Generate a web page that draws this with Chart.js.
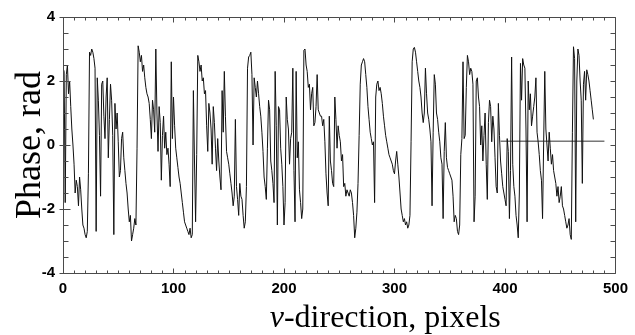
<!DOCTYPE html>
<html>
<head>
<meta charset="utf-8">
<script src="https://cdn.jsdelivr.net/npm/chart.js@4/dist/chart.umd.min.js"></script>
<style>
  html, body { margin: 0; padding: 0; background: #fff; }
  #chartContainer { width: 635px; height: 335px; }
</style>
</head>
<body>
<div id="chartContainer"><canvas id="chart" width="635" height="335"></canvas></div>
<script>
// one phase sample per pixel along v
const xStep = 1
const phase = [
   2.4,  2.3, -1.8,  2.2,  2.5,  1.6,  2.0,  1.2,  0.5,  0.0,
  -0.6, -1.5, -1.1, -1.3, -1.9, -1.0, -1.4, -2.0, -2.5, -2.6,
  -2.8, -2.9, -2.7, -0.9,  2.9,  2.8,  3.0,  2.9,  2.7,  2.4,
  -2.7,  2.1,  1.4,  0.3, -1.6,  1.9,  2.0,  0.9,  0.2,  1.5,
   2.1, -0.4,  0.8,  1.9,  1.4,  0.3, -2.8,  1.3,  0.5,  1.0,
   0.1, -1.0, -0.8,  0.2,  0.4, -0.4, -0.8, -1.2, -1.5, -2.0,
  -2.4, -2.2, -3.0, -2.8, -2.6, -2.3, -2.5, -0.1,  3.1,  2.9,
   2.6,  2.8,  2.3,  2.5,  2.1,  1.8,  1.6,  1.5,  1.3,  0.8,
   0.2,  1.4,  1.1,  0.4,  3.0,  1.0, -0.2,  1.2,  0.7, -1.1,
   0.3,  0.9, -0.1,  0.4, -0.3, -0.1, -0.6, -1.3,  2.6,  0.2,
   1.5,  0.6, -0.1, -0.4, -0.7, -1.0, -1.2, -1.5, -1.8, -2.1,
  -2.4, -2.5, -2.6, -2.7, -2.8, -2.6, -2.9, -2.8,  1.7, -0.5,
  -2.4, -0.3,  2.8,  2.6,  2.3,  2.5,  2.0,  2.1,  1.6,  1.7,
   0.6, -0.2,  1.3,  1.0,  0.5, -0.6,  1.2,  0.7, -0.1, -0.8,
   0.2, -0.5, -1.0, -1.4,  1.7,  0.4,  2.3,  0.9, -0.2, -0.4,
  -0.6, -0.9, -1.2, -1.5, -1.9, -1.6,  0.8, -1.3, -1.7, -2.2,
  -1.2, -1.6, -1.7, -2.2, -2.6, -2.4, -1.3,  2.4, 2.75,  2.8,
   2.9,  2.2,  0.0,  2.1,  1.8,  1.5,  2.0,  1.6,  1.2,  0.9,
   0.4, -0.2, -1.0, -1.3, -1.7, -0.1,  1.4,  1.1, -0.5, -0.8,
  -1.2, -1.8,  2.3,  0.6, -2.5,  1.2,  1.1, -0.1, -0.6, -1.3,
  -2.5, -1.8,  1.5,  0.8,  0.5, -0.6,  0.2,  0.4,  2.4, -0.8,
  -2.4,  2.3, -0.4,  0.1, -1.4, -1.8, -2.3, -2.0, 2.96,  3.0,
   2.5,  2.3,  1.8,  1.9,  1.1,  1.6,  1.8,  0.6,  0.7,  1.2,
   2.2,  1.1,  1.0,  0.9,  0.9,  0.6,  0.8,  0.1, -0.9, -1.5,
  -1.9,  0.9, -0.5, -0.8, -1.2, -1.3,  1.5,  0.8, -0.1,  0.6,
   0.3,  0.1, -0.5, -0.3, -1.3, -1.2, -1.6, -1.4, -1.5, -1.6,
  -1.4, -1.5, -1.8, -2.2, -2.9, -2.6, -2.1, -1.2,  0.3,  1.9,
   2.5,  2.6,  2.7,  2.6,  2.2,  1.8,  1.2,  0.8,  0.4,  0.2,
   0.0,  0.1, -1.8,  1.5,  1.9,  2.0,  1.7,  1.8,  1.6,  1.3,
   0.9,  0.6,  0.3,  0.1, -0.1, -0.3, -0.4, -0.5, -0.6, -0.8,
  -0.9, -0.5, -0.2, -0.6, -1.0, -1.5, -2.0, -2.2, -2.4, -2.3,
  -2.5, -2.4, -2.6, -2.5, -2.2,  0.1,  2.6,  3.0, 3.05,  2.9,
   2.6,  2.3,  2.0,  1.8,  1.5,  1.0,  0.7,  1.0,  2.4,  1.6,
   1.0,  0.8,  0.5,  0.1, -1.9,  0.4,  2.2,  1.9,  1.0,  0.8,
   0.4,  0.1, -0.4, -0.6, -2.3, -0.2,  0.7, -0.4, -0.7, -0.8,
  -0.9, -1.0, -1.1, -1.6, -2.4, -2.2, -2.3, -2.7, -2.8, -2.5,
  -0.3,  0.2,  2.6,  0.2,  0.3,  1.8,  2.8,  2.6,  2.2,  2.4,
   2.3,  1.9, -2.4, -1.6,  2.0,  2.1,  1.5,  1.2,  0.0,  0.6,
  -0.5,  0.3,  1.0, -0.6, -1.7,  0.7,  1.4,  1.2,  0.1,  0.9,
   0.5, -0.4, -1.3, -1.5,  1.3,  0.3, -0.5, -0.9, -1.3, -1.5,
  -1.7, -1.9,  0.2, -0.2, -2.3, -0.8, 2.75, -0.6, -1.3, -1.6,
  -2.2, -2.5, -2.9, -1.5, 2.55,  1.4,  2.7,  2.5,  2.4,  0.5,
  -2.4,  2.0,  1.1,  1.6,  0.6,  0.9,  1.2,  1.5,  2.1,  0.4,
   0.1, -0.3, -0.8, -1.1, -2.3,  0.1,  2.3,  0.5,  0.0, -0.5,
   0.4, -0.1, -0.6, -0.3, -0.8, -1.0, -1.2, -1.6, -1.3, -1.8,
  -1.6, -1.3, -1.9, -2.0, -2.2, -2.4, -2.6, -2.5, -2.3, -2.8,
  -2.95, 0.4, 3.07,  2.7, -2.4,  2.0,  3.0,  2.8,  2.0,  1.4,
  -1.2,  1.9,  2.3,  1.4, 2.35,  2.2,  2.0,  1.7,  1.4,  1.1,
   0.8
]
const refLineX = [396, 490]
const refLineY = [0.12, 0.12]
const xLabels = [0, 100, 200, 300, 400, 500]
const yLabels = [-4, -2, 0, 2, 4]

const phasePoints = phase.map((v, i) => ({ x: i * xStep, y: v }))
const refPoints = refLineX.map((v, i) => ({ x: v, y: refLineY[i] }))

const tickFont = { family: '"Liberation Sans Narrow", "Liberation Sans", Arial, sans-serif', size: 15, weight: 'bold' }
const serif = '"Liberation Serif", "Times New Roman", serif'

// box frame with inward ticks on all four sides
const frameTicks = {
    id: 'frameTicks',
    afterDatasetsDraw(chart) {
        const { ctx, chartArea: a, scales: { x, y } } = chart
        const L = Math.round(a.left) + 0.5, R = Math.round(a.right) + 0.5
        const T = Math.round(a.top) + 0.5, B = Math.round(a.bottom) + 0.5
        ctx.save()
        ctx.strokeStyle = '#4a4a4a'
        ctx.lineWidth = 1
        ctx.beginPath()
        ctx.rect(L, T, R - L, B - T)
        x.ticks.forEach(t => {
            const px = Math.round(x.getPixelForValue(t.value)) + 0.5
            const len = xLabels.includes(t.value) ? 5 : 3
            ctx.moveTo(px, B); ctx.lineTo(px, B - len)
            ctx.moveTo(px, T); ctx.lineTo(px, T + len)
        })
        y.ticks.forEach(t => {
            const py = Math.round(y.getPixelForValue(t.value)) + 0.5
            const major = yLabels.includes(t.value)
            ctx.moveTo(major ? L - 4 : L, py); ctx.lineTo(L + (major ? 7 : 5), py)
            ctx.moveTo(R, py); ctx.lineTo(R - 5, py)
        })
        ctx.stroke()
        ctx.restore()
    },
    afterDraw(chart) {
        // x title: italic "v" followed by upright text
        const { ctx, chartArea: a } = chart
        ctx.save()
        ctx.fillStyle = '#000'
        ctx.textBaseline = 'alphabetic'
        const cx = (a.left + a.right) / 2 + 46
        const by = a.bottom + 54
        ctx.font = 'italic 32px ' + serif
        const w1 = ctx.measureText('v').width
        ctx.font = '32px ' + serif
        const w2 = ctx.measureText('-direction, pixels').width
        const x0 = cx - (w1 + w2) / 2
        ctx.font = 'italic 32px ' + serif
        ctx.fillText('v', x0, by)
        ctx.font = '32px ' + serif
        ctx.fillText('-direction, pixels', x0 + w1, by)
        ctx.restore()
    }
}

const ctx = document.getElementById('chart').getContext('2d')

new Chart(ctx, {
    type: 'line',
    data: {
        datasets: [{
            data: phasePoints,
            borderColor: '#111',
            borderWidth: 1,
            pointRadius: 0,
            tension: 0
        }, {
            data: refPoints,
            borderColor: '#333',
            borderWidth: 1,
            pointRadius: 0
        }]
    },
    options: {
        responsive: false,
        animation: false,
        devicePixelRatio: 1,
        layout: { padding: { top: 13, right: 14, left: 0, bottom: 0 } },
        plugins: { legend: { display: false }, tooltip: { enabled: false } },
        scales: {
            x: {
                type: 'linear',
                min: 0,
                max: 500,
                grid: { display: false, drawTicks: false, tickLength: 0 },
                border: { display: false },
                ticks: {
                    stepSize: 10,
                    autoSkip: false,
                    maxRotation: 0,
                    padding: 7,
                    color: '#000',
                    font: tickFont,
                    callback: v => xLabels.includes(v) ? String(v) : ''
                },
                afterFit: s => { s.height = 62 }
            },
            y: {
                min: -4,
                max: 4,
                grid: { display: false, drawTicks: false, tickLength: 0 },
                border: { display: false },
                ticks: {
                    stepSize: 0.5,
                    autoSkip: false,
                    padding: 8,
                    color: '#000',
                    font: tickFont,
                    callback: v => yLabels.includes(v) ? String(v) : ''
                },
                title: {
                    display: true,
                    text: 'Phase, rad',
                    color: '#000',
                    padding: { top: 13, bottom: 0 },
                    font: { family: serif, size: 36, lineHeight: 1 }
                },
                afterFit: s => { s.width = 63 }
            }
        }
    },
    plugins: [frameTicks]
})
</script>
</body>
</html>
